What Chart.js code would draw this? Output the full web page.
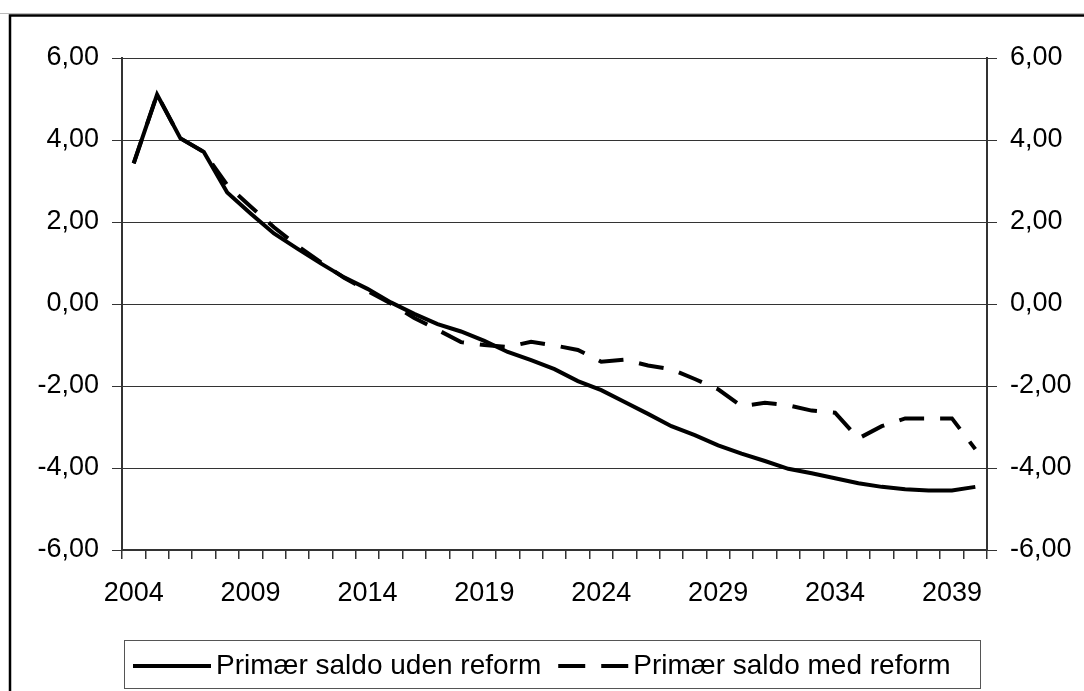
<!DOCTYPE html>
<html>
<head>
<meta charset="utf-8">
<script src="https://cdn.jsdelivr.net/npm/chart.js@4/dist/chart.umd.min.js"></script>
<style>
  html, body { margin: 0; padding: 0; background: #fff; }
  #wrap { width: 1084px; height: 691px; }
</style>
</head>
<body>
<div id="wrap"><canvas id="saldoChart" width="1084" height="691"></canvas></div>
<script>
const years = [
    '2004', '2005', '2006', '2007', '2008', '2009', '2010', '2011', '2012', '2013',
    '2014', '2015', '2016', '2017', '2018', '2019', '2020', '2021', '2022', '2023',
    '2024', '2025', '2026', '2027', '2028', '2029', '2030', '2031', '2032', '2033',
    '2034', '2035', '2036', '2037', '2038', '2039', '2040'
];

// primær saldo, pct. - uden reform
const udenReform = [
    3.43, 5.11, 4.04, 3.71, 2.72, 2.21, 1.72, 1.35, 0.99, 0.65,
    0.37, 0.04, -0.24, -0.49, -0.67, -0.90, -1.17, -1.37, -1.59, -1.88,
    -2.10, -2.39, -2.68, -2.98, -3.20, -3.45, -3.65, -3.83, -4.02, -4.13,
    -4.25, -4.37, -4.46, -4.52, -4.55, -4.55, -4.46
];

// primær saldo, pct. - med reform
const medReform = [
    3.43, 5.11, 4.04, 3.71, 2.90, 2.38, 1.87, 1.42, 1.02, 0.64,
    0.32, 0.01, -0.34, -0.63, -0.93, -1.00, -1.05, -0.92, -1.01, -1.12,
    -1.41, -1.36, -1.50, -1.59, -1.83, -2.08, -2.49, -2.41, -2.47, -2.60,
    -2.65, -3.28, -2.98, -2.79, -2.79, -2.79, -3.54
];

const seriesNames = ['Primær saldo uden reform', 'Primær saldo med reform'];
const yTicks = [-6, -4, -2, 0, 2, 4, 6];

const FONT = "'Liberation Sans', Arial, sans-serif";

function fmt(v) {
    return v.toFixed(2).replace('.', ',');
}

// white page with the frame round the figure
const framePlugin = {
    id: 'frame',
    beforeDraw(chart) {
        const ctx = chart.ctx;
        ctx.save();
        ctx.fillStyle = '#fff';
        ctx.fillRect(0, 0, chart.width, chart.height);
        ctx.restore();
    },
    afterDraw(chart) {
        const ctx = chart.ctx;
        ctx.save();
        ctx.strokeStyle = '#bbb';
        ctx.lineWidth = 1;
        ctx.beginPath();
        ctx.moveTo(0, 13.5);
        ctx.lineTo(chart.width, 13.5);
        ctx.stroke();
        ctx.strokeStyle = '#000';
        ctx.lineWidth = 2.5;
        ctx.strokeRect(10, 15.5, chart.width + 20, chart.height + 20);
        ctx.restore();
    }
};

// boxed legend under the plot, samples use each dataset's own line style
const boxLegend = {
    id: 'boxLegend',
    afterDraw(chart, args, opts) {
        const ctx = chart.ctx;
        const b = opts.box;
        ctx.save();
        ctx.strokeStyle = '#555';
        ctx.lineWidth = 1;
        ctx.strokeRect(b.left + 0.5, b.top + 0.5, b.width, b.height);

        ctx.font = opts.font;
        ctx.fillStyle = '#000';
        ctx.textBaseline = 'middle';
        ctx.textAlign = 'left';
        let x = b.left + 9;
        const y = b.top + 26;
        chart.data.datasets.forEach((ds, i) => {
            const len = opts.sampleLength[i];
            ctx.strokeStyle = ds.borderColor;
            ctx.lineWidth = ds.borderWidth;
            ctx.setLineDash(opts.sampleDash[i]);
            ctx.beginPath();
            ctx.moveTo(x, y);
            ctx.lineTo(x + len, y);
            ctx.stroke();
            ctx.setLineDash([]);
            x += len + 5;
            ctx.fillText(ds.label, x, y);
            x += ctx.measureText(ds.label).width + 17;
        });
        ctx.restore();
    }
};

const ctx = document.getElementById('saldoChart').getContext('2d');
new Chart(ctx, {
    type: 'line',
    data: {
        labels: years,
        datasets: [
            {
                label: seriesNames[0],
                data: udenReform,
                borderColor: '#000',
                borderWidth: 4,
                pointRadius: 0,
                tension: 0,
                fill: false,
            },
            {
                label: seriesNames[1],
                data: medReform,
                borderColor: '#000',
                borderWidth: 4,
                borderDash: [25, 16],
                pointRadius: 0,
                tension: 0,
                fill: false,
            },
        ],
    },
    options: {
        responsive: false,
        animation: false,
        layout: { padding: { left: 0, right: 0, top: 58, bottom: 81 } },
        plugins: {
            legend: { display: false },
            title: { display: false },
            tooltip: { enabled: false },
            boxLegend: {
                box: { left: 124, top: 640, width: 856, height: 48 },
                font: '28px ' + FONT,
                sampleLength: [78, 70],
                sampleDash: [[], [27, 16]],
            },
        },
        scales: {
            x: {
                type: 'category',
                offset: true,
                grid: {
                    offset: true,
                    drawOnChartArea: false,
                    drawTicks: true,
                    tickLength: 9,
                    color: '#333',
                    lineWidth: 1.5,
                },
                border: { color: '#333', width: 2 },
                ticks: {
                    autoSkip: false,
                    maxRotation: 0,
                    padding: 18,
                    color: '#000',
                    font: { family: FONT, size: 27 },
                    callback: function (v, i) {
                        return i % 5 === 0 ? years[i] : '';
                    },
                },
                afterFit(scale) { scale.height = 60; },
            },
            y: {
                position: 'left',
                min: yTicks[0],
                max: yTicks[yTicks.length - 1],
                afterBuildTicks(scale) { scale.ticks = yTicks.map(v => ({ value: v })); },
                grid: { color: '#333', lineWidth: 1, tickLength: 10 },
                border: { color: '#333', width: 2 },
                ticks: {
                    padding: 13,
                    color: '#000',
                    font: { family: FONT, size: 27 },
                    callback: v => fmt(v),
                },
                afterFit(scale) { scale.width = 122; },
            },
            y2: {
                position: 'right',
                min: yTicks[0],
                max: yTicks[yTicks.length - 1],
                afterBuildTicks(scale) { scale.ticks = yTicks.map(v => ({ value: v })); },
                grid: { drawOnChartArea: false, color: '#333', lineWidth: 1, tickLength: 10 },
                border: { color: '#333', width: 2 },
                ticks: {
                    padding: 13,
                    color: '#000',
                    font: { family: FONT, size: 27 },
                    callback: v => fmt(v),
                },
                afterFit(scale) { scale.width = 97; },
            },
        },
    },
    plugins: [framePlugin, boxLegend],
});
</script>
</body>
</html>
